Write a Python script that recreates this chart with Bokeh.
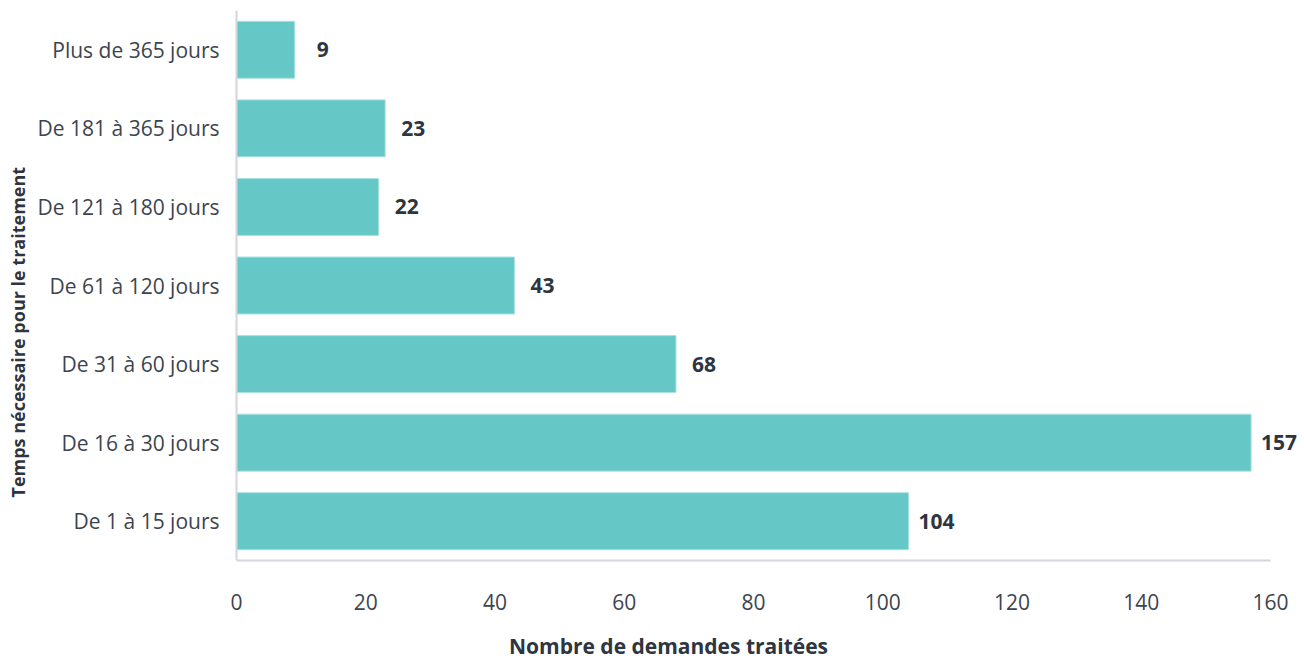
from bokeh.plotting import figure
from bokeh.models import ColumnDataSource, FactorRange, Range1d, Title
from bokeh.core.properties import value
from bokeh.embed import file_html
from bokeh.resources import INLINE

categories = ["De 1 à 15 jours", "De 16 à 30 jours", "De 31 à 60 jours",
              "De 61 à 120 jours", "De 121 à 180 jours", "De 181 à 365 jours",
              "Plus de 365 jours"]
values = [104, 157, 68, 43, 22, 23, 9]
x_ticks = [0, 20, 40, 60, 80, 100, 120, 140, 160]

src = ColumnDataSource(dict(cat=categories, val=values, lbl=[str(v) for v in values]))

# frame spans 32..1304 px; axis 0..160 maps onto 236..1270 px
p = figure(width=1304, height=662, output_backend="svg", toolbar_location=None,
           y_range=FactorRange(factors=categories, range_padding=0),
           x_range=Range1d(-31.57, 165.26),
           min_border_left=32, min_border_right=0, min_border_top=10, min_border_bottom=102)
p.outline_line_color = None
p.xgrid.grid_line_color = None
p.ygrid.grid_line_color = None

p.hbar(y="cat", right="val", left=0, height=0.725, source=src,
       fill_color="#66c7c7", line_color="#a9e1e1", line_width=1)
p.text(x="val", y="cat", text="lbl", source=src, x_offset=28,
       text_align="center", text_baseline="middle", text_font_size="21px",
       text_font_style="bold", text_color="#2e3540", text_font=value("Open Sans"))

for ax in (p.xaxis[0], p.yaxis[0]):
    ax.axis_line_color = "#d3d6da"
    ax.axis_line_width = 2
    ax.major_tick_line_color = None
    ax.minor_tick_line_color = None
    ax.major_label_text_font = "Open Sans"
    ax.major_label_text_font_size = "21px"
    ax.major_label_text_color = "#3d4450"

p.xaxis.ticker = x_ticks
p.xaxis.bounds = (0, 160)
p.xaxis.major_label_standoff = 27
p.xaxis.axis_label = "Nombre de demandes traitées"
p.xaxis.axis_label_standoff = 19
p.xaxis.axis_label_text_font = "Open Sans"
p.xaxis.axis_label_text_font_size = "21px"
p.xaxis.axis_label_text_font_style = "bold"
p.xaxis.axis_label_text_color = "#2e3540"

p.yaxis.fixed_location = 0
p.yaxis.major_label_standoff = 11

yt = Title(text="Temps nécessaire pour le traitement", align="left", offset=63,
           text_font="Open Sans", text_font_size="18px", text_font_style="bold",
           text_color="#2e3540", standoff=5)
p.add_layout(yt, "left")

open("out.html", "w").write(file_html(p, INLINE))
